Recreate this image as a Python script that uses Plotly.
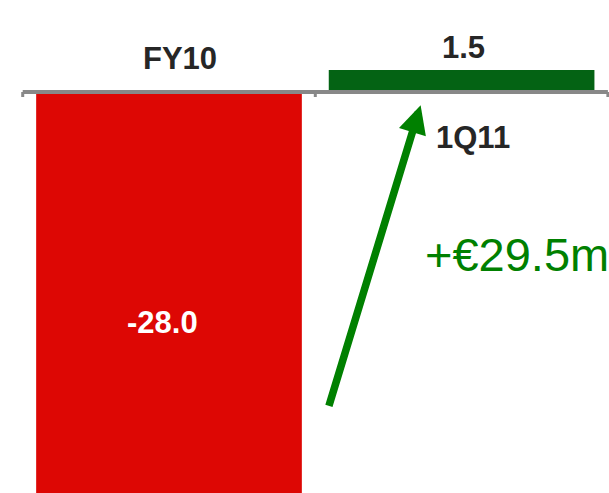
import plotly.graph_objects as go

# Net result, EUR millions
periods = ["FY10", "1Q11"]
values = [-28.0, 1.5]
value_labels = ["-28.0", "1.5"]
bar_colors = ["#dd0704", "#046314"]
change_label = "+€29.5m"

LABEL_FONT = "Liberation Sans, Arial, sans-serif"
DARK = "#262626"
GREEN = "#008000"

x_pos = list(range(len(periods)))

fig = go.Figure()
fig.add_trace(go.Bar(
    x=x_pos,
    y=values,
    width=0.908,
    marker=dict(color=bar_colors, line=dict(width=0)),
    hoverinfo="skip",
))

annotations = []
# category names: above the baseline for negative bars, below for positive
for xi, (name, v) in enumerate(zip(periods, values)):
    annotations.append(dict(
        x=xi, y=0, xref="x", yref="y", text=f"<b>{name}</b>", showarrow=False,
        xanchor="center", yanchor="middle", xshift=11,
        yshift=34 if v < 0 else -45,
        font=dict(family=LABEL_FONT, size=31, color=DARK),
    ))

# value labels
for xi, (lab, v) in enumerate(zip(value_labels, values)):
    if v < 0:
        annotations.append(dict(
            x=xi, y=v / 2, xref="x", yref="y", text=f"<b>{lab}</b>", showarrow=False,
            xanchor="center", yanchor="middle", xshift=-7, yshift=-25,
            font=dict(family=LABEL_FONT, size=31, color="white"),
        ))
    else:
        annotations.append(dict(
            x=xi, y=v, xref="x", yref="y", text=f"<b>{lab}</b>", showarrow=False,
            xanchor="center", yanchor="middle", xshift=2, yshift=23,
            font=dict(family=LABEL_FONT, size=31, color=DARK),
        ))

# improvement arrow from the loss towards the profit
annotations.append(dict(
    x=0.86, y=-0.9, xref="x", yref="y",
    ax=0.545, ay=-21.5, axref="x", ayref="y",
    text="", showarrow=True, arrowhead=2, arrowsize=0.75, arrowwidth=7.5,
    arrowcolor=GREEN,
))
annotations.append(dict(
    x=1.0, y=-11.2, xref="paper", yref="y", text=change_label, showarrow=False,
    xanchor="right", yanchor="middle", xshift=2, yshift=2,
    font=dict(family=LABEL_FONT, size=47, color=GREEN),
))

shapes = [
    # baseline
    dict(type="line", xref="x", yref="y", x0=-0.5, x1=1.5, y0=0, y1=0,
         line=dict(color="#888888", width=4), layer="above"),
]
for b in (-0.5, 0.5, 1.5):
    shapes.append(dict(
        type="line", xref="x", yref="y", xsizemode="scaled", ysizemode="pixel",
        yanchor=0, x0=b, x1=b, y0=0, y1=-5,
        line=dict(color="#888888", width=3), layer="above",
    ))

fig.update_layout(
    width=609, height=493,
    margin=dict(l=0, r=0, t=0, b=0),
    paper_bgcolor="white", plot_bgcolor="white",
    showlegend=False,
    annotations=annotations,
    shapes=shapes,
    xaxis=dict(range=[-0.5776, 1.5038], visible=False, fixedrange=True),
    yaxis=dict(range=[-27.34, 6.273], visible=False, fixedrange=True),
)

fig.write_html("out.html", config={"displayModeBar": False})
